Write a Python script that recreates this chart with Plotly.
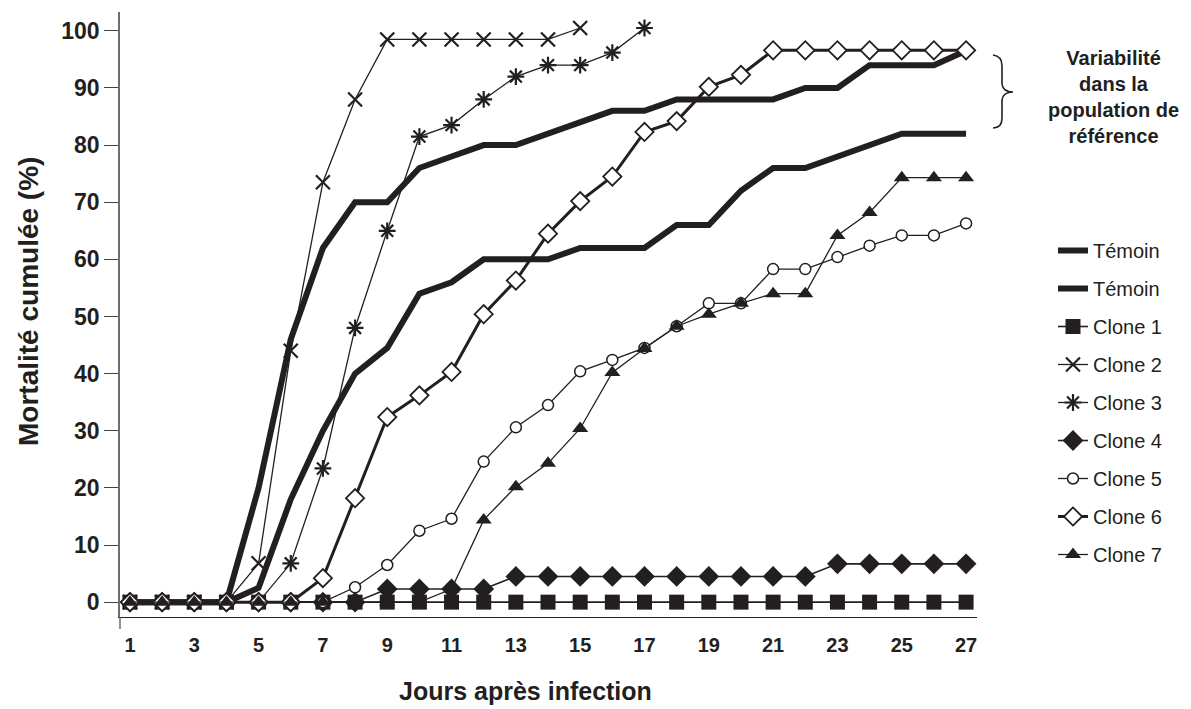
import plotly.graph_objects as go

days = list(range(1, 28))
tick_days = list(range(1, 28, 2))

temoin_a = [0, 0, 0, 0, 20, 46, 62, 70, 70, 76, 78, 80, 80, 82, 84, 86, 86, 88, 88, 88, 88, 90, 90, 94, 94, 94, 96.5]
temoin_b = [0, 0, 0, 0, 2.5, 18, 30, 40, 44.5, 54, 56, 60, 60, 60, 62, 62, 62, 66, 66, 72, 76, 76, 78, 80, 82, 82, 82]
clone1 = [0] * 27
clone2 = [0, 0, 0, 0, 6.8, 44, 73.5, 88, 98.5, 98.5, 98.5, 98.5, 98.5, 98.5, 100.5]
clone3 = [0, 0, 0, 0, 0, 6.8, 23.4, 48, 65, 81.5, 83.5, 88, 92, 94, 94, 96.2, 100.5]
clone4 = [0, 0, 0, 0, 0, 0, 0, 0, 2.3, 2.3, 2.3, 2.3, 4.5, 4.5, 4.5, 4.5, 4.5, 4.5, 4.5, 4.5, 4.5, 4.5, 6.7, 6.7, 6.7, 6.7, 6.7]
clone5 = [0, 0, 0, 0, 0, 0, 0, 2.6, 6.5, 12.5, 14.6, 24.6, 30.6, 34.5, 40.4, 42.4, 44.5, 48.3, 52.3, 52.3, 58.3, 58.3, 60.4, 62.4, 64.2, 64.2, 66.3]
clone6 = [0, 0, 0, 0, 0, 0, 4.2, 18.2, 32.4, 36.2, 40.3, 50.4, 56.3, 64.5, 70.2, 74.5, 82.3, 84.2, 90.2, 92.3, 96.6, 96.6, 96.6, 96.6, 96.6, 96.6, 96.6]
clone7 = [0, 0, 0, 0, 0, 0, 0, 0, 0, 0, 2.3, 14.4, 20.2, 24.3, 30.4, 40.2, 44.4, 48.3, 50.4, 52.3, 54, 54, 64.2, 68.2, 74.3, 74.3, 74.3]

INK = "#231f20"

fig = go.Figure()


def add(name, y, width, symbol=None, size=0, fill=INK, mline=0):
    mode = "lines" if symbol is None else "lines+markers"
    marker = dict(symbol=symbol or "circle", size=size, color=fill,
                  line=dict(color=INK, width=mline))
    fig.add_trace(go.Scatter(x=days[:len(y)], y=y, name=name, mode=mode,
                             line=dict(color=INK, width=width), marker=marker,
                             legendgroup=name + str(len(fig.data))))


add("Témoin", temoin_a, 6)
add("Témoin", temoin_b, 6)
add("Clone 1", clone1, 1.6, "square", 15, INK, 0)
add("Clone 2", clone2, 1.3, "x-thin", 14, INK, 2.2)
add("Clone 3", clone3, 1.3, "asterisk", 14, INK, 2.2)
add("Clone 4", clone4, 1.6, "diamond", 16, INK, 0)
add("Clone 5", clone5, 1.3, "circle", 11, "white", 1.5)
add("Clone 6", clone6, 3, "diamond", 14, "white", 1.8)
add("Clone 7", clone7, 1.3, "triangle-up", 14, INK, 0)

# page offset (browser body margin) compensation
OFF = 8
W, H = 1191 - OFF, 709 - OFF
PL, PR, PT, PB = 120, 977, 12, 617   # plot area in screen pixels
PW, PH = PR - PL, PB - PT


def px(xp, yp):
    return (xp - PL) / PW, (PB - yp) / PH


bx = [993, 1002, 1002, 1002, 1003, 1013, 1003, 1002, 1002, 1002, 993]
by = [55, 56, 66, 84, 92, 92, 92, 100, 118, 128, 128]
pts = [px(a, b) for a, b in zip(bx, by)]
path = ("M {0[0]},{0[1]} Q {1[0]},{1[1]} {2[0]},{2[1]} L {3[0]},{3[1]} "
        "Q {4[0]},{4[1]} {5[0]},{5[1]} Q {6[0]},{6[1]} {7[0]},{7[1]} "
        "L {8[0]},{8[1]} Q {9[0]},{9[1]} {10[0]},{10[1]}").format(*pts)

ax0 = px(120, 617)
ax1 = px(120, 629)

fig.update_layout(
    width=W, height=H,
    margin=dict(l=PL - OFF, r=W + OFF - PR, t=PT - OFF, b=H + OFF - PB, pad=0),
    paper_bgcolor="white", plot_bgcolor="white",
    font=dict(family="Liberation Sans, Arial, sans-serif", color=INK),
    showlegend=True,
    legend=dict(x=px(1053, 0)[0], y=px(0, 231)[1], xanchor="left", yanchor="top",
                font=dict(size=20, color=INK), tracegroupgap=9,
                bgcolor="rgba(0,0,0,0)"),
    xaxis=dict(range=[0.69, 27.34], tickvals=tick_days, ticktext=[str(d) for d in tick_days],
               showgrid=False, zeroline=False, showline=True, linecolor=INK, linewidth=1.3,
               ticks="", ticklabelstandoff=10,
               tickfont=dict(family="Liberation Sans Narrow, Liberation Sans, Arial", size=20, color=INK,
                             weight="bold")),
    yaxis=dict(range=[-2.6, 103.3], tickvals=list(range(0, 101, 10)),
               showgrid=False, zeroline=False, showline=True, linecolor="#6d6d6d", linewidth=1.5,
               ticks="outside", ticklen=14, tickwidth=1.3, tickcolor="#444444",
               tickfont=dict(size=23, color=INK, weight="bold")),
    shapes=[
        dict(type="line", xref="paper", yref="paper", x0=ax0[0], y0=ax0[1], x1=ax1[0], y1=ax1[1],
             line=dict(color="#6d6d6d", width=1.5)),
        dict(type="path", xref="paper", yref="paper", path=path, line=dict(color=INK, width=1.6)),
    ],
    annotations=[
        dict(text="<b>Jours après infection</b>", xref="paper", yref="paper",
             x=px(525, 0)[0], y=px(0, 691)[1], showarrow=False, xanchor="center", yanchor="middle",
             font=dict(size=25, color=INK)),
        dict(text="<b>Mortalité cumulée (%)</b>", xref="paper", yref="paper",
             x=px(28, 0)[0], y=px(0, 302)[1], showarrow=False, textangle=-90,
             xanchor="center", yanchor="middle", font=dict(size=28, color=INK)),
        dict(text="<b>Variabilité<br>dans la<br>population de<br>référence</b>", xref="paper", yref="paper",
             x=px(1113, 0)[0], y=px(0, 97)[1], showarrow=False, xanchor="center", yanchor="middle",
             align="center", font=dict(size=20, color=INK)),
    ],
)

fig.write_html("out.html")
